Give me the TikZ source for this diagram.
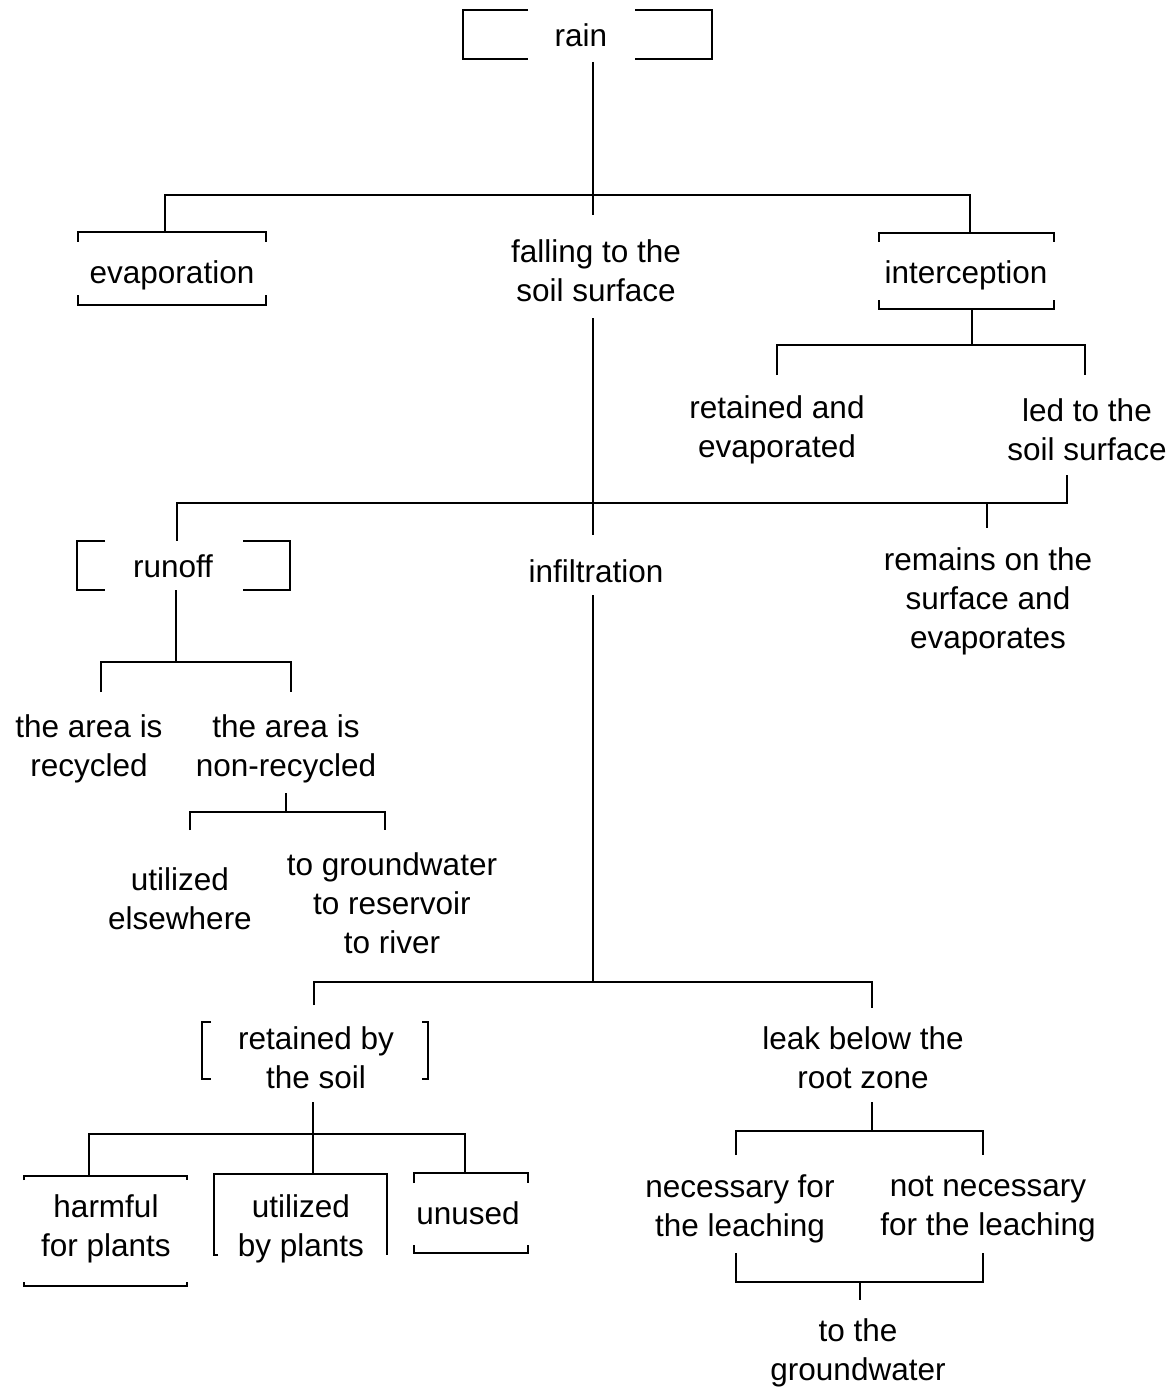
\documentclass[tikz,border=0pt]{standalone}
\usepackage{fontspec}
\setmainfont{Liberation Sans}
\begin{document}
\begin{tikzpicture}[x=1pt,y=-1pt,
  lbl/.style={inner sep=0pt,align=center,font=\fontsize{31.5}{39}\selectfont},
  ln/.style={line width=2.8pt,line cap=butt,line join=miter}]
\useasboundingbox[fill=white] (0,0) rectangle (1175,1388);
% texts
\node[lbl] (rain) at (581,35) {rain};
\node[lbl] (evap) at (172,275) {evaporation};
\node[lbl] (fall) at (596,271) {falling to the\\soil surface};
\node[lbl] (inter) at (966,275) {interception};
\node[lbl] (retev) at (777,430) {retained and\\evaporated};
\node[lbl] (led) at (1087,430) {led to the\\soil surface};
\node[lbl] (runoff) at (173,566) {runoff};
\node[lbl] (infil) at (596,571) {infiltration};
\node[lbl] (remains) at (988,601) {remains on the\\surface and\\evaporates};
\node[lbl] (recyc) at (89,749) {the area is\\recycled};
\node[lbl] (nonrec) at (286,749) {the area is\\non-recycled};
\node[lbl] (else) at (180,899) {utilized\\elsewhere};
\node[lbl] (togw) at (392,903) {to groundwater\\to reservoir\\to river};
\node[lbl] (retsoil) at (316,1058) {retained by\\the soil};
\node[lbl] (leak) at (863,1058) {leak below the\\root zone};
\node[lbl] (harm) at (106,1229) {harmful\\for plants};
\node[lbl] (utilp) at (301,1229) {utilized\\by plants};
\node[lbl] (unused) at (468,1213) {unused};
\node[lbl] (nec) at (740,1209) {necessary for\\the leaching};
\node[lbl] (notnec) at (988,1209) {not necessary\\for the leaching};
\node[lbl] (gw) at (858,1353) {to the\\groundwater};
% junction coordinates
\coordinate (j1) at (593,195);
\coordinate (j2) at (972,345);
\coordinate (j3) at (593,503);
\coordinate (j4) at (176,662);
\coordinate (j5) at (286,812);
\coordinate (j6) at (593,982);
\coordinate (j7) at (313,1134);
\coordinate (j8) at (872,1131);
\coordinate (j9) at (860,1282);
% brackets
\draw[ln] (528,10)--(463,10)--(463,59)--(528,59);
\draw[ln] (635,10)--(712,10)--(712,59)--(635,59);
\draw[ln] (78,242)--(78,232)--(266,232)--(266,242);
\draw[ln] (78,295)--(78,305)--(266,305)--(266,295);
\draw[ln] (879,242)--(879,233)--(1054,233)--(1054,242);
\draw[ln] (879,300)--(879,309)--(1054,309)--(1054,300);
\draw[ln] (105,541)--(77,541)--(77,590)--(105,590);
\draw[ln] (243,541)--(290,541)--(290,590)--(243,590);
\draw[ln] (211,1022)--(202,1022)--(202,1079)--(211,1079);
\draw[ln] (422,1022)--(428,1022)--(428,1079)--(422,1079);
\draw[ln] (24,1180)--(24,1176)--(187,1176)--(187,1180);
\draw[ln] (24,1282)--(24,1286)--(187,1286)--(187,1282);
\draw[ln] (218,1255)--(214,1255)--(214,1174)--(387,1174)--(387,1255);
\draw[ln] (414,1183)--(414,1173)--(528,1173)--(528,1183);
\draw[ln] (414,1245)--(414,1253)--(528,1253)--(528,1245);
% connectors
\draw[ln] (593,62)--(j1)--(593,215);
\draw[ln] (165,232)--(165,195)--(970,195)--(970,233);
\draw[ln] (972,309)--(j2);
\draw[ln] (777,375)--(777,345)--(1085,345)--(1085,375);
\draw[ln] (593,318)--(j3)--(593,535);
\draw[ln] (1067,475)--(1067,503)--(177,503)--(177,541);
\draw[ln] (987,503)--(987,528);
\draw[ln] (176,590)--(j4);
\draw[ln] (101,692)--(101,662)--(291,662)--(291,692);
\draw[ln] (286,793)--(j5);
\draw[ln] (190,830)--(190,812)--(385,812)--(385,830);
\draw[ln] (593,595)--(j6);
\draw[ln] (314,1005)--(314,982)--(872,982)--(872,1008);
\draw[ln] (313,1102)--(313,1174);
\draw[ln] (89,1176)--(89,1134)--(465,1134)--(465,1173);
\draw[ln] (872,1102)--(j8);
\draw[ln] (736,1155)--(736,1131)--(983,1131)--(983,1155);
\draw[ln] (736,1253)--(736,1282)--(983,1282)--(983,1253);
\draw[ln] (j9)--(860,1300);
\end{tikzpicture}
\end{document}
